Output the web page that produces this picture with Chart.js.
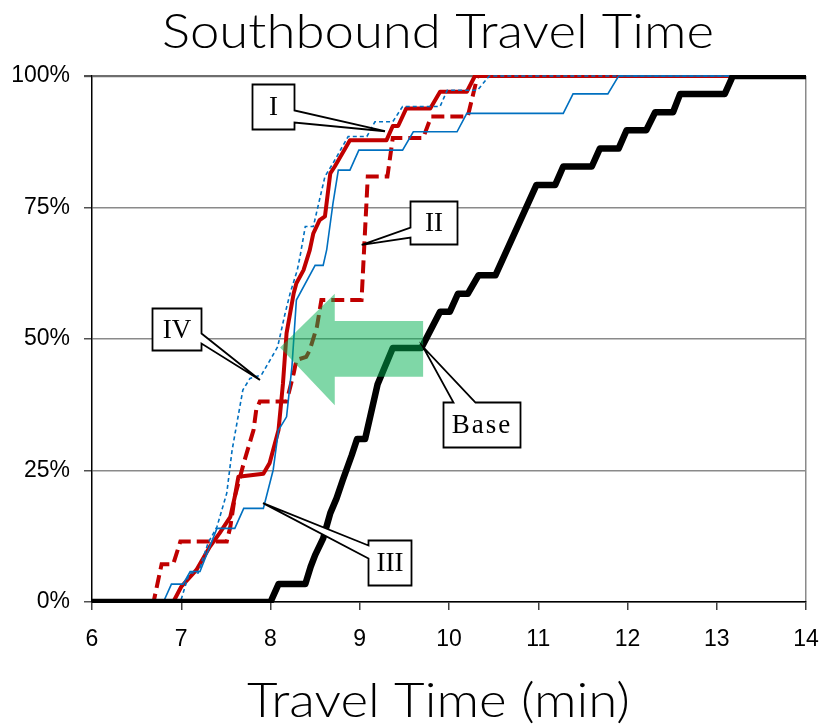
<!DOCTYPE html>
<html>
<head>
<meta charset="utf-8">
<style>
  html, body { margin: 0; padding: 0; background: #ffffff; }
  #wrap { width: 823px; height: 727px; }
</style>
<script src="https://cdn.jsdelivr.net/npm/chart.js@4.4.0/dist/chart.umd.min.js"></script>
</head>
<body>
<div id="wrap"><canvas id="chart" width="823" height="727"></canvas></div>
<script>
// Axis ticks
const xTicks = [6, 7, 8, 9, 10, 11, 12, 13, 14];
const yTicks = [0, 25, 50, 75, 100];

// Cumulative share of trips (%) against travel time (min)
const baseTime = [6, 8.0, 8.09, 8.39, 8.45, 8.5, 8.59, 8.67, 8.74, 8.81, 8.91, 8.97, 9.06, 9.2, 9.37, 9.69, 9.9, 10.01, 10.1, 10.21, 10.33, 10.52, 10.98, 11.19, 11.28, 11.6, 11.69, 11.9, 11.99, 12.21, 12.31, 12.51, 12.59, 13.09, 13.18, 14];
const basePct  = [0, 0, 3.4, 3.4, 6.7, 8.9, 12.1, 16.9, 19.7, 23.2, 27.9, 31.0, 31.0, 41.4, 48.3, 48.3, 55.2, 55.2, 58.6, 58.6, 62.1, 62.1, 79.3, 79.3, 82.8, 82.8, 86.2, 86.2, 89.7, 89.7, 93.1, 93.1, 96.6, 96.6, 100, 100];

const s1Time = [6, 6.91, 7.0, 7.17, 7.32, 7.43, 7.55, 7.6, 7.64, 7.92, 7.99, 8.09, 8.14, 8.18, 8.26, 8.29, 8.37, 8.44, 8.48, 8.55, 8.61, 8.67, 8.72, 8.89, 9.30, 9.37, 9.43, 9.52, 9.79, 9.90, 10.20, 10.29, 14];
const s1Pct  = [0, 0, 2.9, 6.1, 10.5, 13.1, 16.2, 20.0, 23.8, 24.4, 26.4, 32.7, 41.6, 51.1, 58.7, 60.6, 63.1, 66.9, 70.1, 72.6, 73.3, 81.5, 82.8, 87.8, 87.8, 90.5, 90.5, 93.8, 93.8, 97.0, 97.0, 100, 100];

const s2Time = [6, 6.69, 6.78, 6.91, 6.99, 7.51, 7.55, 7.60, 7.70, 7.81, 7.84, 7.88, 8.18, 8.26, 8.29, 8.40, 8.44, 8.52, 8.57, 9.02, 9.09, 9.31, 9.37, 9.71, 9.80, 10.21, 10.32, 14];
const s2Pct  = [0, 0, 7.2, 7.2, 11.5, 11.5, 14.3, 20.0, 26.4, 32.7, 36.5, 38.1, 38.1, 43.5, 46.0, 46.6, 47.9, 52.3, 57.4, 57.4, 80.9, 80.9, 88.2, 88.2, 92.3, 92.3, 100, 100];

const s3Time = [6, 6.80, 6.89, 7.02, 7.10, 7.21, 7.40, 7.60, 7.70, 7.92, 8.03, 8.09, 8.18, 8.24, 8.29, 8.50, 8.59, 8.63, 8.70, 8.76, 8.89, 8.99, 9.48, 9.60, 10.09, 10.20, 11.28, 11.39, 11.78, 11.90, 14];
const s3Pct  = [0, 0, 3.4, 3.4, 5.8, 5.8, 14.0, 14.0, 17.8, 17.8, 25.1, 32.7, 35.2, 44.7, 57.4, 64.0, 64.0, 67.0, 75.8, 82.1, 82.1, 85.9, 85.9, 89.4, 89.4, 92.9, 92.9, 96.6, 96.6, 100, 100];

const s4Time = [6, 6.99, 7.09, 7.19, 7.30, 7.40, 7.51, 7.57, 7.69, 7.77, 7.90, 8.08, 8.16, 8.22, 8.30, 8.33, 8.39, 8.48, 8.61, 8.70, 8.87, 9.08, 9.17, 9.37, 9.48, 9.90, 9.98, 10.32, 10.45, 14];
const s4Pct  = [0, 0, 5.5, 5.5, 11.2, 14.3, 20.7, 28.9, 40.3, 42.5, 43.2, 48.5, 54.6, 58.7, 63.1, 65.6, 71.4, 71.4, 80.9, 83.4, 88.5, 88.5, 91.3, 91.3, 94.2, 94.2, 97.3, 97.3, 100, 100];

const titleText = 'Southbound Travel Time';
const xTitleText = 'Travel Time (min)';

const toPoints = (ts, ps) => ts.map((t, i) => ({ x: t, y: ps[i] }));

// Callout boxes: box centre and tip in data units, box size / wedge attachment in px
const callouts = [
  { text: 'I',    bx: 8.028,  by: 94.2,  w: 42, h: 45, side: 'right', a1: 26, a2: 38, tx: 9.283, ty: 89.5 },
  { text: 'II',   bx: 9.826,  by: 72.15, w: 47, h: 43, side: 'left',  a1: 26, a2: 36, tx: 9.022, ty: 67.9 },
  { text: 'IV',   bx: 6.947,  by: 51.9,  w: 49, h: 42, side: 'right', a1: 25, a2: 35, tx: 7.882, ty: 42.2 },
  { text: 'Base', bx: 10.364, by: 33.75, w: 77, h: 45, side: 'top',   a1: 10, a2: 32, tx: 9.709, ty: 48.5 },
  { text: 'III',  bx: 9.333,  by: 7.5,   w: 43, h: 45, side: 'left',  a1: 5,  a2: 18, tx: 7.916, ty: 18.8 }
];

// Shift arrow (data units)
const arrow = { tipX: 8.107, tipY: 48.4, headX: 8.72, headTop: 58.6, headBottom: 37.4, shaftTop: 53.4, shaftBottom: 42.8, tailX: 9.71 };

const TITLE_FONT = '300 47px Lato, "DejaVu Sans", sans-serif';

// Wide, light heading text: drawn stretched horizontally to a given width
function drawWideText(ctx, text, cx, baseline, width) {
  ctx.save();
  ctx.font = TITLE_FONT;
  ctx.fillStyle = '#000000';
  ctx.textAlign = 'center';
  ctx.textBaseline = 'alphabetic';
  const natural = ctx.measureText(text).width;
  const k = width / natural;
  ctx.translate(cx, baseline);
  ctx.scale(k, 1);
  ctx.fillText(text, 0, 0);
  ctx.restore();
}

const overlayPlugin = {
  id: 'overlay',
  afterDatasetsDraw(chart) {
    const { ctx, scales: { x, y } } = chart;
    // translucent arrow
    ctx.save();
    ctx.fillStyle = 'rgba(0,176,80,0.5)';
    ctx.beginPath();
    ctx.moveTo(x.getPixelForValue(arrow.tipX), y.getPixelForValue(arrow.tipY));
    ctx.lineTo(x.getPixelForValue(arrow.headX), y.getPixelForValue(arrow.headTop));
    ctx.lineTo(x.getPixelForValue(arrow.headX), y.getPixelForValue(arrow.shaftTop));
    ctx.lineTo(x.getPixelForValue(arrow.tailX), y.getPixelForValue(arrow.shaftTop));
    ctx.lineTo(x.getPixelForValue(arrow.tailX), y.getPixelForValue(arrow.shaftBottom));
    ctx.lineTo(x.getPixelForValue(arrow.headX), y.getPixelForValue(arrow.shaftBottom));
    ctx.lineTo(x.getPixelForValue(arrow.headX), y.getPixelForValue(arrow.headBottom));
    ctx.closePath();
    ctx.fill();
    ctx.restore();

    // callouts
    callouts.forEach(c => {
      const cx = x.getPixelForValue(c.bx), cy = y.getPixelForValue(c.by);
      const L = Math.round(cx - c.w / 2) + 0.5, T = Math.round(cy - c.h / 2) + 0.5;
      const R = L + c.w, B = T + c.h;
      const tip = [x.getPixelForValue(c.tx), y.getPixelForValue(c.ty)];
      let pts;
      if (c.side === 'right') {
        pts = [[L, T], [R, T], [R, T + c.a1], tip, [R, T + c.a2], [R, B], [L, B]];
      } else if (c.side === 'left') {
        pts = [[L, T], [R, T], [R, B], [L, B], [L, T + c.a2], tip, [L, T + c.a1]];
      } else {
        pts = [[L, T], [L + c.a1, T], tip, [L + c.a2, T], [R, T], [R, B], [L, B]];
      }
      ctx.save();
      ctx.beginPath();
      pts.forEach((p, i) => i ? ctx.lineTo(p[0], p[1]) : ctx.moveTo(p[0], p[1]));
      ctx.closePath();
      ctx.fillStyle = '#ffffff';
      ctx.fill();
      ctx.lineWidth = 1.8;
      ctx.lineJoin = 'miter';
      ctx.strokeStyle = '#000000';
      ctx.stroke();
      ctx.fillStyle = '#000000';
      ctx.font = '27px "Liberation Serif", "Times New Roman", serif';
      ctx.textAlign = 'center';
      ctx.textBaseline = 'middle';
      if (c.text === 'Base') ctx.letterSpacing = '2px';
      ctx.fillText(c.text, (L + R) / 2, (T + B) / 2 + 1);
      ctx.restore();
    });
  },
  afterDraw(chart) {
    const { ctx } = chart;
    drawWideText(ctx, titleText, 438, 48, 552);
    drawWideText(ctx, xTitleText, 438.5, 717, 383);
  }
};

const sansTick = { family: '"Liberation Sans", Arial, sans-serif', size: 23 };

new Chart(document.getElementById('chart'), {
  type: 'line',
  data: {
    datasets: [
      { label: 'Base', data: toPoints(baseTime, basePct), borderColor: '#000000', borderWidth: 6.5, borderJoinStyle: 'round' },
      { label: 'III', data: toPoints(s3Time, s3Pct), borderColor: '#0070C0', borderWidth: 1.6 },
      { label: 'IV', data: toPoints(s4Time, s4Pct), borderColor: '#0070C0', borderWidth: 1.6, borderDash: [4, 3] },
      { label: 'II', data: toPoints(s2Time, s2Pct), borderColor: '#C00000', borderWidth: 4, borderDash: [13, 6] },
      { label: 'I', data: toPoints(s1Time, s1Pct), borderColor: '#C00000', borderWidth: 4, borderJoinStyle: 'round' }
    ]
  },
  options: {
    responsive: false,
    animation: false,
    devicePixelRatio: 1,
    layout: { padding: { left: 0, right: 17, top: 76, bottom: 0 } },
    elements: { point: { radius: 0 }, line: { tension: 0, fill: false } },
    datasets: { line: { clip: 1 } },
    plugins: {
      legend: { display: false },
      tooltip: { enabled: false },
      title: { display: false }
    },
    scales: {
      x: {
        type: 'linear',
        min: 6, max: 14,
        afterBuildTicks: s => { s.ticks = xTicks.map(v => ({ value: v })); },
        afterFit: s => { s.height = 125; s.paddingLeft = 0; s.paddingRight = 0; },
        ticks: { color: '#000000', font: sansTick, padding: 16, maxRotation: 0, autoSkip: false },
        grid: {
          color: c => (c.tick && c.tick.value === 14) ? '#8a8a8a' : 'rgba(0,0,0,0)',
          lineWidth: 1.5,
          tickColor: '#404040',
          tickLength: 8
        },
        border: { color: '#000000', width: 1.5 }
      },
      y: {
        type: 'linear',
        min: 0, max: 100,
        afterBuildTicks: s => { s.ticks = yTicks.map(v => ({ value: v })); },
        afterFit: s => { s.width = 92; s.paddingTop = 0; s.paddingBottom = 0; },
        ticks: { color: '#000000', font: sansTick, padding: 14, callback: v => v + '%' },
        grid: {
          color: c => (c.tick && c.tick.value === 100) ? '#6e6e6e' : '#8a8a8a',
          lineWidth: c => (c.tick && c.tick.value === 100) ? 2.2 : 1.5,
          tickColor: '#505050',
          tickLength: 8
        },
        border: { color: '#000000', width: 1.5 }
      }
    }
  },
  plugins: [overlayPlugin]
});
</script>
</body>
</html>
